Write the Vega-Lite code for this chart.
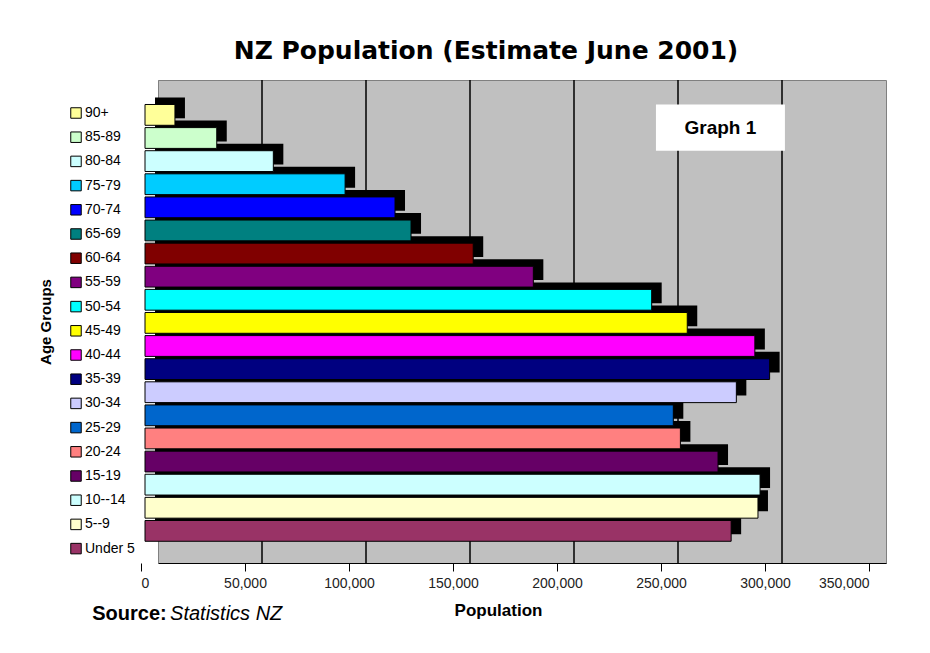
{
  "$schema": "https://vega.github.io/schema/vega-lite/v6.json",
  "autosize": {"type": "none"},
  "width": 728,
  "height": 483,
  "padding": {"left": 158, "top": 80, "right": 44, "bottom": 90},
  "background": "white",
  "config": {
    "font": "Liberation Sans",
    "view": {"fill": "#C0C0C0", "stroke": "#808080", "strokeWidth": 1}
  },
  "title": {
    "text": "NZ Population (Estimate June 2001)",
    "font": "DejaVu Sans",
    "fontSize": 25,
    "fontWeight": "bold",
    "color": "#000000",
    "anchor": "middle",
    "frame": "group",
    "dx": -36,
    "offset": -5,
    "baseline": "alphabetic"
  },
  "data": {
    "values": [
      {"age": "Under 5", "population": 281800},
      {"age": "5--9", "population": 294700},
      {"age": "10--14", "population": 295700},
      {"age": "15-19", "population": 275500},
      {"age": "20-24", "population": 257400},
      {"age": "25-29", "population": 254000},
      {"age": "30-34", "population": 284300},
      {"age": "35-39", "population": 300300},
      {"age": "40-44", "population": 293200},
      {"age": "45-49", "population": 260700},
      {"age": "50-54", "population": 243600},
      {"age": "55-59", "population": 186700},
      {"age": "60-64", "population": 157800},
      {"age": "65-69", "population": 127900},
      {"age": "70-74", "population": 120200},
      {"age": "75-79", "population": 96200},
      {"age": "80-84", "population": 61700},
      {"age": "85-89", "population": 34500},
      {"age": "90+", "population": 14400}
    ]
  },
  "layer": [
    {
      "data": {"values": [{"g": 50000}, {"g": 100000}, {"g": 150000}, {"g": 200000}, {"g": 250000}, {"g": 300000}]},
      "mark": {"type": "rule", "color": "#000000", "strokeWidth": 1.5},
      "encoding": {
        "x": {"field": "g", "type": "quantitative", "scale": {"domain": [0, 350000]}}
      }
    },
    {
      "mark": {"type": "bar", "color": "#000000", "xOffset": -3, "x2Offset": -3, "yOffset": -7},
      "encoding": {
        "y": {"field": "age", "type": "nominal"},
        "x": {"field": "population", "type": "quantitative"}
      }
    },
    {
      "mark": {"type": "bar", "xOffset": -13, "x2Offset": -13, "stroke": "#000000", "strokeWidth": 1},
      "encoding": {
        "y": {
          "field": "age",
          "type": "nominal",
          "scale": {
            "domain": ["90+", "85-89", "80-84", "75-79", "70-74", "65-69", "60-64", "55-59", "50-54", "45-49", "40-44", "35-39", "30-34", "25-29", "20-24", "15-19", "10--14", "5--9", "Under 5"],
            "paddingInner": 0.1,
            "paddingOuter": 1.07,
            "align": 0.53
          },
          "axis": {
            "title": "Age Groups",
            "titleFontSize": 15,
            "titleFontWeight": "bold",
            "titleColor": "#000000",
            "titlePadding": 105,
            "labels": false,
            "ticks": false,
            "domain": true,
            "domainColor": "#808080"
          }
        },
        "x": {
          "field": "population",
          "type": "quantitative",
          "scale": {"domain": [0, 350000]},
          "axis": {
            "title": "Population",
            "titleFontSize": 17,
            "titleFontWeight": "bold",
            "titleColor": "#000000",
            "titlePadding": 12,
            "titleX": 340,
            "values": [0, 50000, 100000, 150000, 200000, 250000, 300000, 350000],
            "format": ",.0f",
            "grid": false,
            "tickOffset": -17,
            "tickSize": 8,
            "tickColor": "#000000",
            "domainColor": "#000000",
            "labelFontSize": 14,
            "labelColor": "#222222",
            "labelPadding": 5
          }
        },
        "color": {
          "field": "age",
          "type": "nominal",
          "scale": {
            "domain": ["90+", "85-89", "80-84", "75-79", "70-74", "65-69", "60-64", "55-59", "50-54", "45-49", "40-44", "35-39", "30-34", "25-29", "20-24", "15-19", "10--14", "5--9", "Under 5"],
            "range": ["#FFFF99", "#CCFFCC", "#CCFFFF", "#00CCFF", "#0000FF", "#008080", "#800000", "#800080", "#00FFFF", "#FFFF00", "#FF00FF", "#000080", "#CCCCFF", "#0066CC", "#FF8080", "#660066", "#CCFFFF", "#FFFFCC", "#993366"]
          },
          "legend": {
            "title": null,
            "orient": "none",
            "legendX": -89,
            "legendY": 26,
            "padding": 0,
            "symbolType": "square",
            "symbolSize": 110,
            "symbolStrokeColor": "#000000",
            "symbolStrokeWidth": 1,
            "labelFontSize": 14,
            "labelColor": "#000000",
            "labelOffset": 2,
            "rowPadding": 8.2
          }
        }
      }
    },
    {
      "data": {"values": [{"label": "Graph 1"}]},
      "mark": {"type": "rect", "fill": "#FFFFFF"},
      "encoding": {
        "x": {"datum": 239400},
        "x2": {"datum": 301400},
        "y": {"datum": "90+", "bandPosition": 0},
        "y2": {"datum": "80-84", "bandPosition": 0}
      }
    },
    {
      "data": {"values": [{"label": "Graph 1"}]},
      "mark": {"type": "text", "fontSize": 19, "fontWeight": "bold", "fill": "#000000", "baseline": "middle", "align": "center"},
      "encoding": {
        "text": {"field": "label"},
        "x": {"datum": 270400},
        "y": {"datum": "85-89", "bandPosition": 0}
      }
    },
    {
      "data": {"values": [{"label": "Source:"}]},
      "mark": {"type": "text", "fontSize": 20, "fontWeight": "bold", "fill": "#000000", "baseline": "alphabetic", "align": "right", "dy": 79},
      "encoding": {
        "text": {"field": "label"},
        "x": {"datum": 4200},
        "y": {"datum": "Under 5", "bandPosition": 1}
      }
    },
    {
      "data": {"values": [{"label": "Statistics NZ"}]},
      "mark": {"type": "text", "fontSize": 20, "fontStyle": "italic", "fill": "#000000", "baseline": "alphabetic", "align": "left", "dy": 79},
      "encoding": {
        "text": {"field": "label"},
        "x": {"datum": 5800},
        "y": {"datum": "Under 5", "bandPosition": 1}
      }
    }
  ]
}
